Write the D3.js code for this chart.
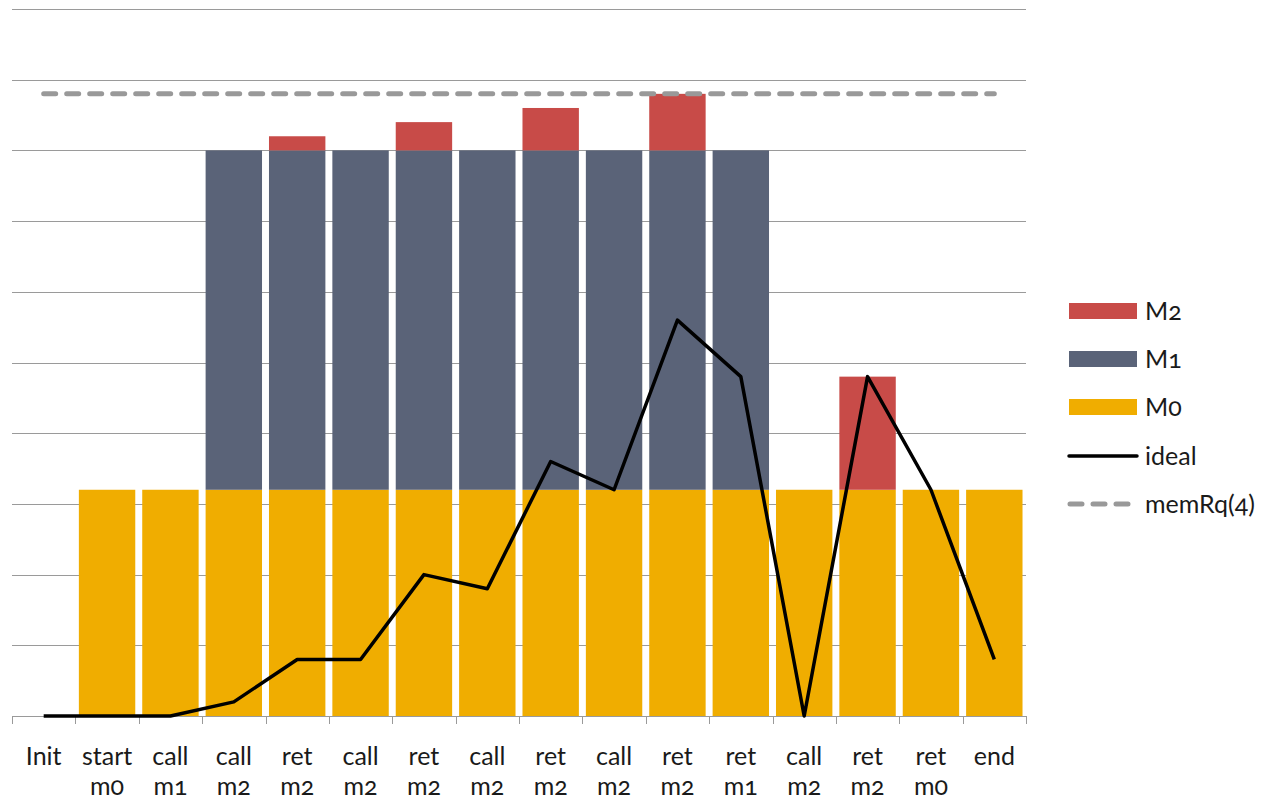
<!DOCTYPE html>
<html>
<head>
<meta charset="utf-8">
<script src="https://cdn.jsdelivr.net/npm/d3@7"></script>
<style>
  html, body { margin: 0; padding: 0; background: #fff; }
  svg text { font-family: Lato, "Open Sans", sans-serif; font-feature-settings: "onum" 1; fill: #1a1a1a; }
</style>
</head>
<body>
<svg id="chart" width="1262" height="802"></svg>
<script>
// Memory steps along the call trace
const categories = [
  ["Init"], ["start", "m0"], ["call", "m1"], ["call", "m2"], ["ret", "m2"],
  ["call", "m2"], ["ret", "m2"], ["call", "m2"], ["ret", "m2"], ["call", "m2"],
  ["ret", "m2"], ["ret", "m1"], ["call", "m2"], ["ret", "m2"], ["ret", "m0"], ["end"]
];
const m0 = [0, 16, 16, 16, 16, 16, 16, 16, 16, 16, 16, 16, 16, 16, 16, 16];
const m1 = [0, 0, 0, 24, 24, 24, 24, 24, 24, 24, 24, 24, 0, 0, 0, 0];
const m2 = [0, 0, 0, 0, 1, 0, 2, 0, 3, 0, 4, 0, 0, 8, 0, 0];
const ideal = [0, 0, 0, 1, 4, 4, 10, 9, 18, 16, 28, 24, 0, 24, 16, 4];
const memRq = 44;
const yTicks = [0, 5, 10, 15, 20, 25, 30, 35, 40, 45, 50];

const seriesNames = ["M0", "M1", "M2"];
const colors = { M0: "#F0AD00", M1: "#5A6378", M2: "#C84B48" };

const svg = d3.select("#chart");
const plotLeft = 12, plotRight = 1026, plotTop = 9, plotBottom = 716;

const x = d3.scaleBand().domain(d3.range(categories.length)).range([plotLeft, plotRight]).paddingInner(0.11).paddingOuter(0.055);
const y = d3.scaleLinear().domain([0, 50]).range([plotBottom, plotTop]);

// horizontal gridlines
svg.append("g").selectAll("line").data(yTicks.filter(d => d > 0)).join("line")
  .attr("x1", plotLeft).attr("x2", plotRight)
  .attr("y1", d => Math.round(y(d)) + 0.5).attr("y2", d => Math.round(y(d)) + 0.5)
  .attr("stroke", "#9a9a9a").attr("stroke-width", 1);

// stacked bars
const rows = categories.map((c, i) => ({ i, M0: m0[i], M1: m1[i], M2: m2[i] }));
const stack = d3.stack().keys(seriesNames)(rows);
svg.append("g").selectAll("g").data(stack).join("g")
  .attr("fill", d => colors[d.key])
  .selectAll("rect").data(d => d.filter(p => p[1] > p[0])).join("rect")
  .attr("x", p => x(p.data.i))
  .attr("width", x.bandwidth())
  .attr("y", p => y(p[1]))
  .attr("height", p => y(p[0]) - y(p[1]));

// x axis with ticks between categories
const step = (plotRight - plotLeft) / categories.length;
const axis = svg.append("g");
axis.append("line").attr("x1", plotLeft).attr("x2", plotRight).attr("y1", plotBottom + 0.5).attr("y2", plotBottom + 0.5)
  .attr("stroke", "#9a9a9a");
axis.selectAll("line.tick").data(d3.range(categories.length + 1)).join("line")
  .attr("class", "tick")
  .attr("x1", i => Math.round(plotLeft + i * step) + 0.5).attr("x2", i => Math.round(plotLeft + i * step) + 0.5)
  .attr("y1", plotBottom).attr("y2", plotBottom + 8)
  .attr("stroke", "#9a9a9a");

const cx = i => x(i) + x.bandwidth() / 2;
axis.selectAll("text").data(categories).join("text")
  .attr("text-anchor", "middle")
  .attr("font-size", 25)
  .each(function (lines, i) {
    const t = d3.select(this);
    lines.forEach((s, k) => {
      t.append("tspan").attr("x", cx(i)).attr("y", 765 + k * 30).text(s);
    });
  });

// requirement line
svg.append("line")
  .attr("x1", cx(0)).attr("x2", cx(categories.length - 1))
  .attr("y1", y(memRq)).attr("y2", y(memRq))
  .attr("stroke", "#999").attr("stroke-width", 5)
  .attr("stroke-linecap", "round")
  .attr("stroke-dasharray", "12,11");

// ideal line
svg.append("path")
  .datum(ideal)
  .attr("fill", "none").attr("stroke", "#000").attr("stroke-width", 3.5)
  .attr("stroke-linejoin", "round")
  .attr("d", d3.line().x((d, i) => cx(i)).y(d => y(d)));

// legend
const legend = svg.append("g");
const items = [
  { name: "M2", type: "rect", color: colors.M2, y: 311 },
  { name: "M1", type: "rect", color: colors.M1, y: 359 },
  { name: "M0", type: "rect", color: colors.M0, y: 407 },
  { name: "ideal", type: "line", color: "#000", y: 456 },
  { name: "memRq(4)", type: "dash", color: "#999", y: 504 }
];
items.forEach(it => {
  if (it.type === "rect") {
    legend.append("rect").attr("x", 1069).attr("y", it.y - 8).attr("width", 68).attr("height", 16).attr("fill", it.color);
  } else if (it.type === "line") {
    legend.append("line").attr("x1", 1069).attr("x2", 1137).attr("y1", it.y).attr("y2", it.y)
      .attr("stroke", it.color).attr("stroke-width", 3.5).attr("stroke-linecap", "round");
  } else {
    legend.append("line").attr("x1", 1070).attr("x2", 1137).attr("y1", it.y).attr("y2", it.y)
      .attr("stroke", it.color).attr("stroke-width", 5).attr("stroke-linecap", "round")
      .attr("stroke-dasharray", "12,11");
  }
  legend.append("text").attr("x", 1145).attr("y", it.y + 9).attr("font-size", 25).text(it.name);
});
</script>
</body>
</html>
